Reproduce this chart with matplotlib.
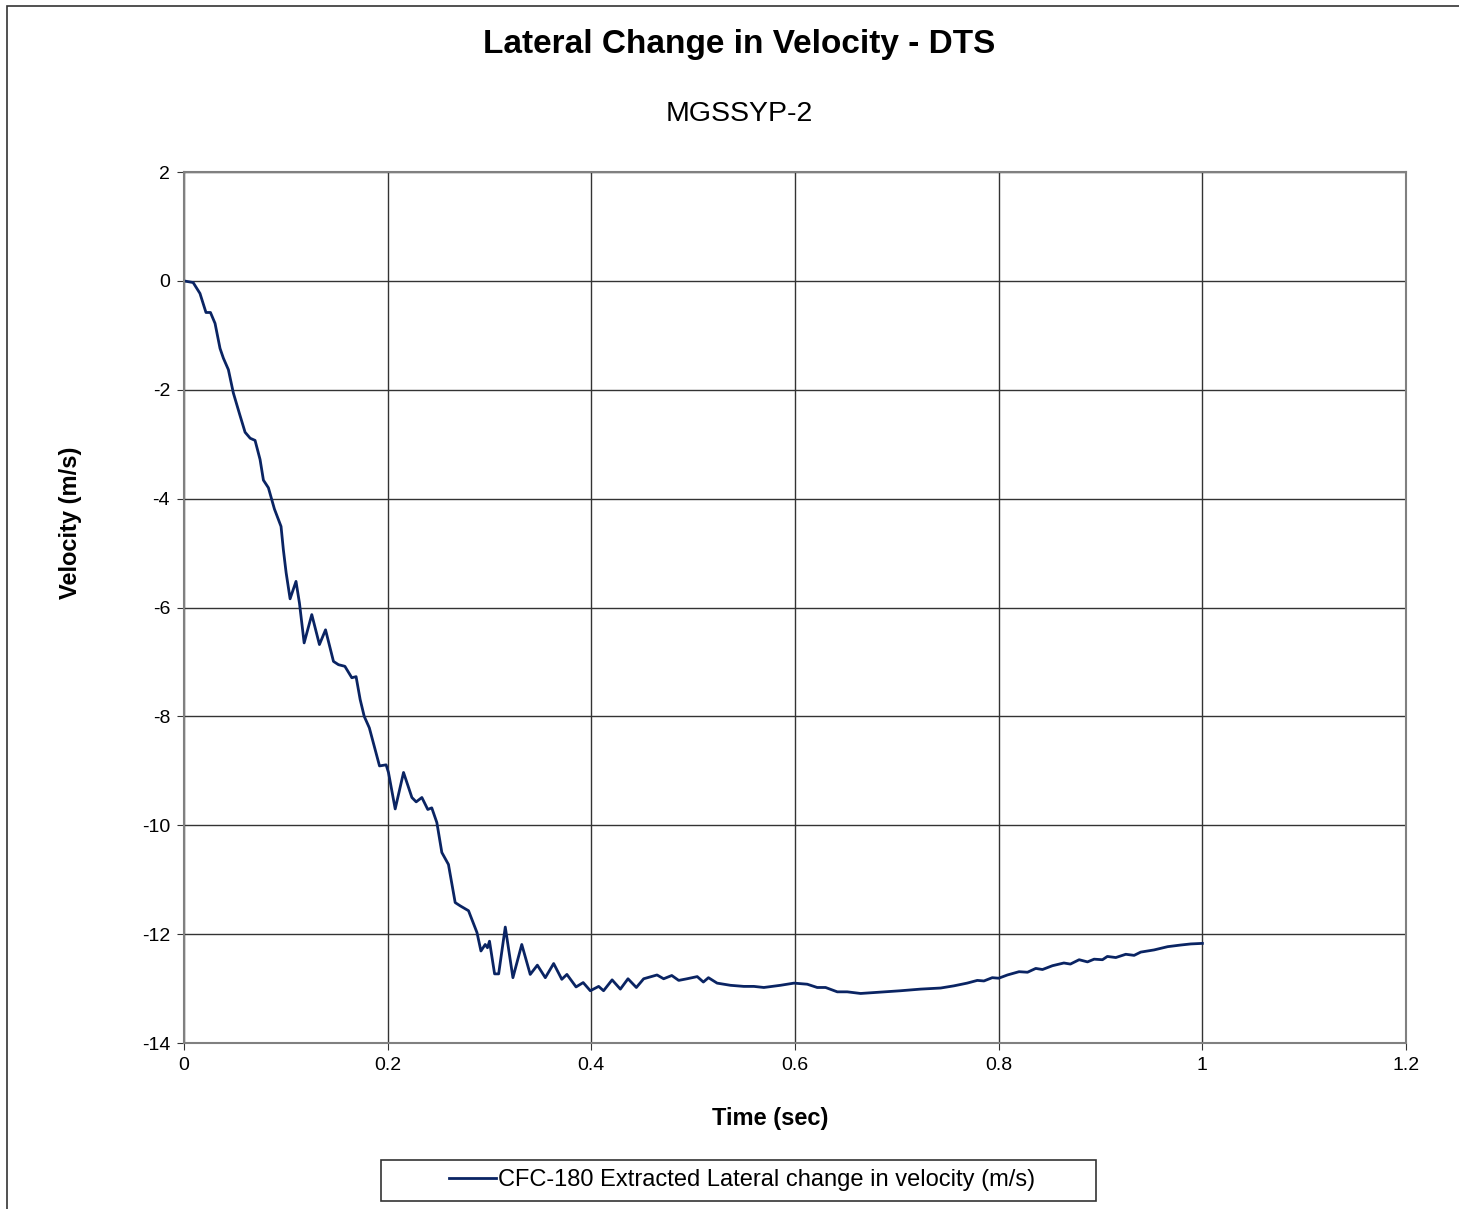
import matplotlib.pyplot as plt
from matplotlib.patches import Rectangle

plt.rcParams['font.family'] = ['Liberation Sans', 'DejaVu Sans']
plt.rcParams['axes.unicode_minus'] = False

# Time (sec) and lateral change in velocity (m/s)
time = [0.0, 0.009, 0.0157, 0.0216, 0.026, 0.0305, 0.0354, 0.0387, 0.0436, 0.0485,
        0.0545, 0.06, 0.065, 0.0698, 0.0747, 0.078, 0.0829, 0.0888, 0.0953, 0.0976,
        0.1003, 0.1042, 0.110, 0.1134, 0.118, 0.1255, 0.133, 0.139, 0.1468, 0.1517,
        0.158, 0.1648, 0.169, 0.173, 0.177, 0.182, 0.1877, 0.192, 0.1985, 0.2008,
        0.2074, 0.2156, 0.2238, 0.228, 0.2336, 0.2394, 0.2433, 0.2483, 0.2532, 0.2597,
        0.2663, 0.2712, 0.2794, 0.2877, 0.2916, 0.2958, 0.298, 0.300, 0.305, 0.309,
        0.3155, 0.323, 0.3317, 0.340, 0.347, 0.3548, 0.363, 0.371, 0.376, 0.385,
        0.392, 0.399, 0.4072, 0.412, 0.4204, 0.4285, 0.436, 0.4442, 0.4514, 0.4645,
        0.471, 0.479, 0.4858, 0.494, 0.504, 0.510, 0.515, 0.5235, 0.5366, 0.5497,
        0.5596, 0.5694, 0.5857, 0.599, 0.612, 0.6218, 0.630, 0.6415, 0.6513, 0.6644,
        0.6807, 0.7037, 0.7233, 0.743, 0.756, 0.769, 0.779, 0.7855, 0.7937, 0.800,
        0.8086, 0.820, 0.8283, 0.8364, 0.843, 0.8528, 0.864, 0.8704, 0.879, 0.8872,
        0.8937, 0.9019, 0.9067, 0.9150, 0.9248, 0.9330, 0.9395, 0.9526, 0.966, 0.9788,
        0.9887, 1.0]
velocity = [0.0, -0.03, -0.23, -0.58, -0.58, -0.78, -1.24, -1.42, -1.63, -2.06,
            -2.44, -2.78, -2.89, -2.93, -3.28, -3.66, -3.80, -4.19, -4.51, -4.94,
            -5.36, -5.84, -5.52, -5.92, -6.65, -6.13, -6.68, -6.41, -6.99, -7.05,
            -7.08, -7.29, -7.27, -7.69, -8.00, -8.21, -8.61, -8.91, -8.89, -9.03,
            -9.70, -9.03, -9.49, -9.57, -9.49, -9.71, -9.68, -9.95, -10.50, -10.72,
            -11.42, -11.48, -11.57, -11.97, -12.31, -12.19, -12.25, -12.13, -12.73, -12.73,
            -11.87, -12.80, -12.19, -12.74, -12.57, -12.80, -12.54, -12.83, -12.74, -12.97,
            -12.89, -13.04, -12.96, -13.04, -12.84, -13.01, -12.82, -12.98, -12.82, -12.75,
            -12.82, -12.76, -12.85, -12.82, -12.78, -12.88, -12.80, -12.90, -12.94, -12.96,
            -12.96, -12.98, -12.94, -12.90, -12.92, -12.98, -12.98, -13.06, -13.06, -13.09,
            -13.07, -13.04, -13.01, -12.99, -12.95, -12.90, -12.85, -12.86, -12.80, -12.81,
            -12.75, -12.69, -12.70, -12.63, -12.65, -12.58, -12.53, -12.55, -12.47, -12.51,
            -12.46, -12.47, -12.41, -12.43, -12.37, -12.39, -12.33, -12.29, -12.23, -12.20,
            -12.18, -12.17]

x_ticks = [0, 0.2, 0.4, 0.6, 0.8, 1, 1.2]
x_labels = ['0', '0.2', '0.4', '0.6', '0.8', '1', '1.2']
y_ticks = [2, 0, -2, -4, -6, -8, -10, -12, -14]

fig = plt.figure(figsize=(14.59, 12.09), dpi=100)
ax = fig.add_axes([0.1261, 0.1373, 0.8376, 0.7204])

ax.plot(time, velocity, color='#0a2463', linewidth=2,
        label='CFC-180 Extracted Lateral change in velocity (m/s)')

ax.set_xlim(0, 1.2)
ax.set_ylim(-14, 2)
ax.set_xticks(x_ticks)
ax.set_xticklabels(x_labels)
ax.set_yticks(y_ticks)
ax.grid(True, color='#333333', linewidth=1)
ax.set_axisbelow(True)
for s in ax.spines.values():
    s.set_color('#808080')
    s.set_linewidth(1.5)
ax.tick_params(axis='both', labelsize=14, length=5, direction='out', color='#333333', pad=5)

# axis titles placed like in the original
fig.text(770 / 1459, 1 - 1118 / 1209, 'Time (sec)', fontsize=17, fontweight='bold',
         ha='center', va='center')
fig.text(70 / 1459, 1 - 523 / 1209, 'Velocity (m/s)', fontsize=17, fontweight='bold',
         ha='center', va='center', rotation=90)

fig.text(739 / 1459, 1 - 45 / 1209, 'Lateral Change in Velocity - DTS', fontsize=24,
         fontweight='bold', ha='center', va='center')
fig.text(739 / 1459, 1 - 114 / 1209, 'MGSSYP-2', fontsize=20.5, ha='center', va='center')

fig.legend(loc='center', bbox_to_anchor=(742 / 1459, 1 - 1180 / 1209), fontsize=17,
           frameon=False, handlelength=2.0, handletextpad=0.1, borderpad=0.2)
fig.patches.append(Rectangle((381 / 1459, 1 - 1201 / 1209), 715 / 1459, 41 / 1209,
                             transform=fig.transFigure, fill=False,
                             edgecolor='#333333', linewidth=1.2))

fig.patches.append(Rectangle((7 / 1459, -0.01), 1.1, 1 - 6 / 1209 + 0.01,
                             transform=fig.transFigure, fill=False,
                             edgecolor='#333333', linewidth=1.2))

fig.savefig('out.png', dpi=100)
